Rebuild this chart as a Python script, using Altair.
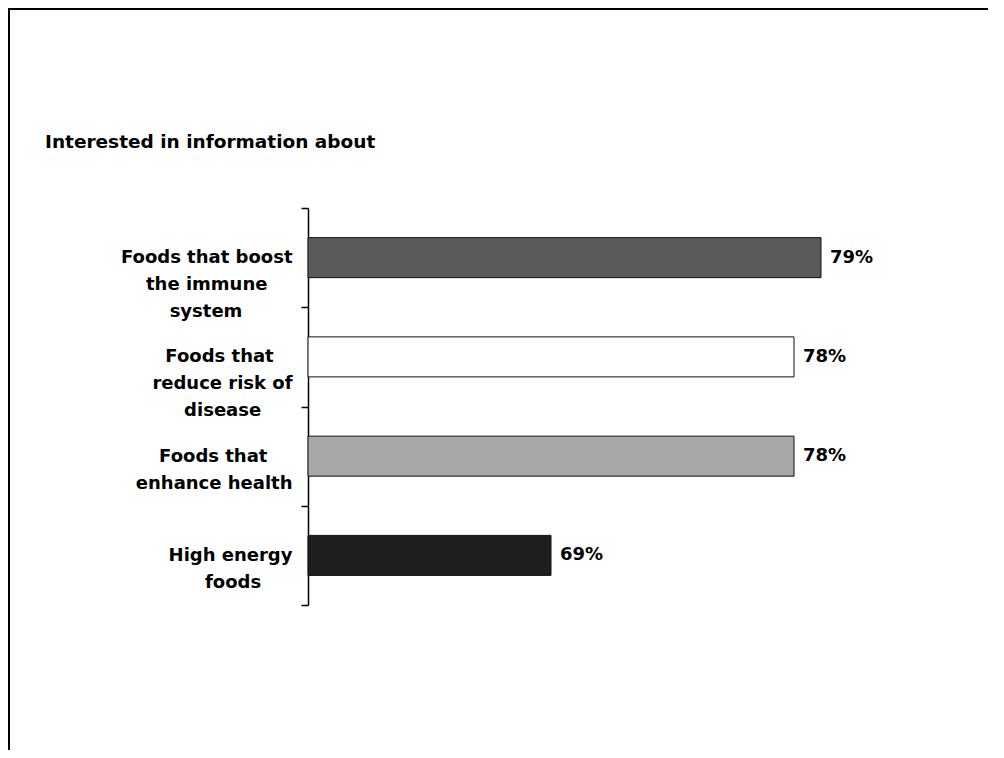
import altair as alt
import pandas as pd

title = "Interested in information about"
label_lines = [
    ["Foods that boost", "the immune", "system"],
    ["Foods that", "reduce risk of", "disease"],
    ["Foods that", "enhance health"],
    ["High energy", "foods"],
]
values = [79, 78, 78, 69]
colors = ["#5a5a5a", "#ffffff", "#a8a8a8", "#1e1e1e"]

# approximate DejaVu Sans Bold advance widths (em) used to centre wrapped lines
W = {'a': .675, 'b': .716, 'c': .593, 'd': .716, 'e': .678, 'f': .435, 'g': .716,
     'h': .712, 'i': .343, 'k': .665, 'l': .343, 'm': 1.042, 'n': .712, 'o': .687,
     'r': .493, 's': .595, 't': .478, 'u': .712, 'y': .652, ' ': .348, 'F': .575, 'H': .837}


def tw(s):
    return sum(W.get(c, .65) for c in s)


def centred(lines):
    m = max(tw(l) for l in lines)
    out = []
    for l in lines:
        n = round((m - tw(l)) / 2 / .348)
        out.append(l + ("\u00a0" * n + "\u200b" if n else ""))
    return "|".join(out)


cats = [centred(l) for l in label_lines]
df = pd.DataFrame({"cat": cats, "value": values, "color": colors})
frame_df = pd.DataFrame({"a": [0]})

y_enc = alt.Y(
    "cat:N", sort=None,
    scale=alt.Scale(paddingInner=0, paddingOuter=0),
    axis=alt.Axis(
        title=None, labelExpr="split(datum.label, '|')",
        labelFont="DejaVu Sans", labelFontSize=18, labelFontWeight="bold",
        labelColor="black", labelAlign="right", labelBaseline="middle",
        labelLineHeight=27, labelPadding=9, labelLimit=0,
        tickBand="extent", tickSize=7, tickColor="black", tickWidth=1.5,
        domainColor="black", domainWidth=1.5, grid=False,
    ),
)
x_scale = alt.Scale(domain=[60, 80], zero=False, nice=False)

bars = alt.Chart(df).mark_bar(size=40, stroke="#111111", strokeWidth=1).encode(
    y=y_enc,
    x=alt.X("value:Q", scale=x_scale, axis=None),
    x2=alt.datum(60),
    color=alt.Color("color:N", scale=None),
)

texts = alt.Chart(df).transform_calculate(
    lab="format(datum.value, 'd') + '%'"
).mark_text(
    align="left", baseline="middle", dx=9, font="DejaVu Sans",
    fontSize=18, fontWeight="bold", color="black"
).encode(
    y=alt.Y("cat:N", sort=None),
    x=alt.X("value:Q", scale=x_scale),
    text="lab:N",
)

frame_top = alt.Chart(frame_df).mark_rule(color="black", strokeWidth=2).encode(
    x=alt.value(-300), x2=alt.value(680), y=alt.value(-199)
)
frame_left = alt.Chart(frame_df).mark_rule(color="black", strokeWidth=2).encode(
    x=alt.value(-299), y=alt.value(-200), y2=alt.value(542)
)
title_mark = alt.Chart(frame_df).mark_text(
    text=title, align="left", baseline="alphabetic", font="DejaVu Sans",
    fontSize=18.5, fontWeight="bold", color="black"
).encode(x=alt.value(-263), y=alt.value(-60))

chart = alt.layer(frame_top, frame_left, title_mark, bars, texts).properties(
    width=540, height=397,
    autosize="none",
    padding={"left": 300, "top": 200, "right": 148, "bottom": 145},
).configure(background="white", view=alt.ViewConfig(stroke=None))

chart.save("out.html", embed_options={"renderer": "svg", "actions": False})
